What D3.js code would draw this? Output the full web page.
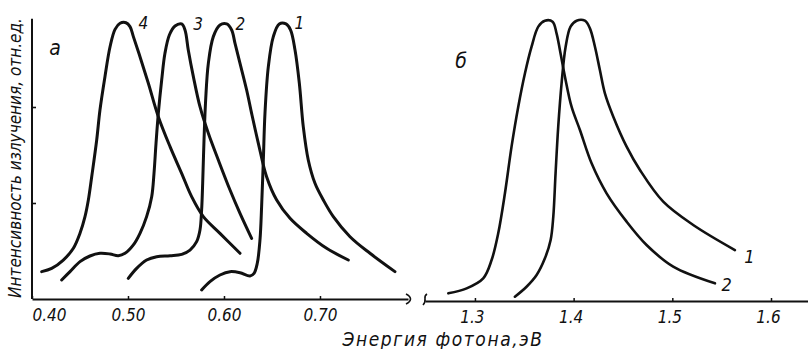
<!DOCTYPE html>
<html><head><meta charset="utf-8">
<script src="https://cdn.jsdelivr.net/npm/d3@7"></script>
<style>
body{margin:0;background:#fff}
svg{display:block;background:#fff}
text{font-family:"Liberation Sans Narrow","DejaVu Sans Condensed",sans-serif;font-style:italic;fill:#111}
</style>
</head><body>
<svg id="c" width="808" height="349"></svg>
<script>
// ---- tick values / labels ----
const ticksA = [0.40, 0.50, 0.60, 0.70];
const tickLabelsA = ["0.40", "0.50", "0.60", "0.70"];
const ticksB = [1.3, 1.4, 1.5, 1.6];
const tickLabelsB = ["1.3", "1.4", "1.5", "1.6"];
const yTicks = [1, 2];
const xTitle = "Энергия фотона,эВ";
const yTitle = "Интенсивность излучения, отн.ед.";
const panelNames = ["а", "б"];

// ---- panel а : series 1..4 (energy, eV ; intensity, rel. units) ----
const a1E = [0.5767,0.5854,0.5958,0.6063,0.6167,0.6271,0.6313,0.6347,0.6375,0.6392,0.6410,0.6427,0.6462,0.6514,0.6576,0.6646,0.6694,0.6740,0.6785,0.6826,0.6878,0.6948,0.7035,0.7139,0.7313,0.7521,0.7781];
const a1I = [0.094,0.181,0.250,0.285,0.274,0.240,0.267,0.372,0.615,0.962,1.448,1.934,2.420,2.733,2.865,2.865,2.802,2.594,2.247,1.795,1.448,1.205,1.031,0.858,0.649,0.476,0.285];

const a2E = [0.5003,0.5090,0.5194,0.5299,0.5438,0.5559,0.5646,0.5715,0.5750,0.5767,0.5778,0.5792,0.5809,0.5837,0.5889,0.5958,0.6028,0.6080,0.6115,0.6167,0.6236,0.6288,0.6358,0.6444,0.6549,0.6688,0.6861,0.7069,0.7295];
const a2I = [0.215,0.319,0.406,0.441,0.451,0.465,0.510,0.597,0.719,0.927,1.205,1.656,2.073,2.455,2.733,2.854,2.865,2.802,2.663,2.455,2.177,1.934,1.622,1.274,1.031,0.840,0.684,0.528,0.406];

const a3E = [0.4309,0.4396,0.4500,0.4604,0.4708,0.4813,0.4899,0.4969,0.5056,0.5125,0.5194,0.5247,0.5271,0.5292,0.5316,0.5351,0.5385,0.5431,0.5490,0.5559,0.5594,0.5628,0.5681,0.5750,0.5837,0.5941,0.6063,0.6167,0.6288];
const a3I = [0.198,0.285,0.389,0.448,0.476,0.469,0.451,0.476,0.563,0.684,0.858,1.066,1.309,1.622,1.934,2.281,2.559,2.750,2.844,2.865,2.802,2.594,2.316,2.003,1.726,1.448,1.135,0.892,0.632];

const a4E = [0.4101,0.4205,0.4326,0.4431,0.4500,0.4552,0.4587,0.4622,0.4674,0.4708,0.4760,0.4813,0.4865,0.4917,0.4979,0.5021,0.5056,0.5125,0.5212,0.5316,0.5438,0.5559,0.5663,0.5785,0.5958,0.6167];
const a4I = [0.285,0.319,0.406,0.528,0.684,0.858,1.031,1.274,1.656,1.969,2.316,2.628,2.809,2.872,2.878,2.837,2.733,2.524,2.247,1.899,1.587,1.309,1.066,0.858,0.684,0.476];

// ---- panel б : series 1, 2 ----
const b1E = [1.3405,1.3523,1.3625,1.3709,1.3767,1.3794,1.3817,1.3844,1.3878,1.3919,1.3969,1.4030,1.4114,1.4165,1.4216,1.4266,1.4317,1.4402,1.4537,1.4672,1.4908,1.5212,1.5634];
const b1I = [0.024,0.128,0.250,0.424,0.615,0.858,1.309,1.795,2.247,2.628,2.837,2.899,2.899,2.819,2.628,2.385,2.142,1.899,1.587,1.344,1.014,0.771,0.510];

const b2E = [1.2730,1.2916,1.3084,1.3169,1.3236,1.3304,1.3371,1.3439,1.3507,1.3574,1.3642,1.3709,1.3787,1.3827,1.3861,1.3912,1.3979,1.4064,1.4182,1.4334,1.4537,1.4739,1.5009,1.5432];
const b2I = [0.059,0.111,0.215,0.406,0.684,1.101,1.587,2.003,2.351,2.628,2.837,2.899,2.889,2.767,2.594,2.316,2.003,1.760,1.413,1.101,0.806,0.563,0.337,0.163];

// curve labels: [text, energy, intensity]
const labelsA = [["4",0.5160,2.875],["3",0.5730,2.865],["2",0.6170,2.865],["1",0.6785,2.875]];
const labelsB = [["1",1.5780,0.44],["2",1.5550,0.15]];
// panel letters: [text, energy, intensity]
const panelA = [panelNames[0], 0.4240, 2.62];
const panelB = [panelNames[1], 1.2860, 2.48];

// ---- scales ----
const svg = d3.select("#c");
const xA = d3.scaleLinear().domain([0.40, 0.7917]).range([32, 408]);
const xB = d3.scaleLinear().domain([1.2494, 1.6385]).range([425, 809]);
const y = d3.scaleLinear().domain([0, 3]).range([299, 11]);

const ink = "#111";
const fam = '"Liberation Sans Narrow","DejaVu Sans Condensed",sans-serif';

// y axis
const yAx = svg.append("g").attr("transform", `translate(${xA(0.40)},0)`)
  .call(d3.axisLeft(y).tickValues(yTicks).tickSize(-4).tickFormat(""));
yAx.select(".domain").remove();
yAx.selectAll("line").attr("stroke", ink).attr("stroke-width", 1.6);
svg.append("line").attr("x1", xA(0.40)).attr("x2", xA(0.40))
  .attr("y1", y(0)).attr("y2", y(2.92)).attr("stroke", ink).attr("stroke-width", 2);

// x axis а
const gA = svg.append("g").attr("transform", `translate(0,${y(0)})`)
  .call(d3.axisBottom(xA).tickValues(ticksA).tickSizeInner(-3).tickSizeOuter(0)
    .tickPadding(10).tickFormat((d,i) => tickLabelsA[i]));
gA.select(".domain").attr("stroke", ink).attr("stroke-width", 2);
gA.selectAll("line").attr("stroke", ink).attr("stroke-width", 1.5);
gA.selectAll("text").attr("font-size", 17).attr("fill", ink).attr("font-family", fam)
  .attr("dx", (d,i) => i === 0 ? 17 : 0);

// x axis б
const gB = svg.append("g").attr("transform", `translate(0,${y(0) + 2})`)
  .call(d3.axisBottom(xB).tickValues(ticksB).tickSizeInner(-3).tickSizeOuter(0)
    .tickPadding(10).tickFormat((d,i) => tickLabelsB[i]));
gB.select(".domain").attr("stroke", ink).attr("stroke-width", 2);
gB.selectAll("line").attr("stroke", ink).attr("stroke-width", 1.5);
gB.selectAll("text").attr("font-size", 17).attr("fill", ink).attr("font-family", fam)
  .attr("dx", -3);

// axis break marks
const xe = xA.range()[1], ys = xB.range()[0], yb = y(0);
svg.append("path").attr("d", `M${xe-2},${yb-5} C${xe+4},${yb-2} ${xe+4},${yb+2} ${xe-2},${yb+5}`)
  .attr("fill", "none").attr("stroke", ink).attr("stroke-width", 1.6);
svg.append("path").attr("d", `M${ys+2},${yb-5} C${ys-3},${yb-2} ${ys+3},${yb+1} ${ys-2},${yb+6}`)
  .attr("fill", "none").attr("stroke", ink).attr("stroke-width", 1.6);

// curves
const lineA = d3.line().x(d => xA(d[0])).y(d => y(d[1])).curve(d3.curveCatmullRom.alpha(0.5));
const lineB = d3.line().x(d => xB(d[0])).y(d => y(d[1])).curve(d3.curveCatmullRom.alpha(0.5));
const zip = (E, I) => E.map((e, i) => [e, I[i]]);
[[a1E,a1I],[a2E,a2I],[a3E,a3I],[a4E,a4I]].forEach(([E,I]) => {
  svg.append("path").attr("d", lineA(zip(E,I))).attr("fill","none")
    .attr("stroke", ink).attr("stroke-width", 3).attr("stroke-linecap","round").attr("stroke-linejoin","round");
});
[[b1E,b1I],[b2E,b2I]].forEach(([E,I]) => {
  svg.append("path").attr("d", lineB(zip(E,I))).attr("fill","none")
    .attr("stroke", ink).attr("stroke-width", 2.6).attr("stroke-linecap","round").attr("stroke-linejoin","round");
});

// curve labels
labelsA.forEach(([t,e,v]) => svg.append("text").attr("x", xA(e)).attr("y", y(v)).attr("dy","0.35em")
  .attr("text-anchor","middle").attr("font-size", 17).text(t));
labelsB.forEach(([t,e,v]) => svg.append("text").attr("x", xB(e)).attr("y", y(v)).attr("dy","0.35em")
  .attr("text-anchor","middle").attr("font-size", 18).text(t));

// panel letters
[[panelA, xA],[panelB, xB]].forEach(([p, sx]) => svg.append("text").attr("x", sx(p[1])).attr("y", y(p[2]))
  .attr("dy","0.35em").attr("text-anchor","middle").attr("font-size", 21).text(p[0]));

// titles
svg.append("text").attr("x", 443).attr("y", 346).attr("text-anchor","middle")
  .attr("font-size", 19).attr("letter-spacing", 1.6).text(xTitle);
svg.append("text").attr("transform", "translate(21,158) rotate(-90)").attr("text-anchor","middle")
  .attr("font-size", 17).attr("letter-spacing", 0).text(yTitle);
</script>
</body></html>
